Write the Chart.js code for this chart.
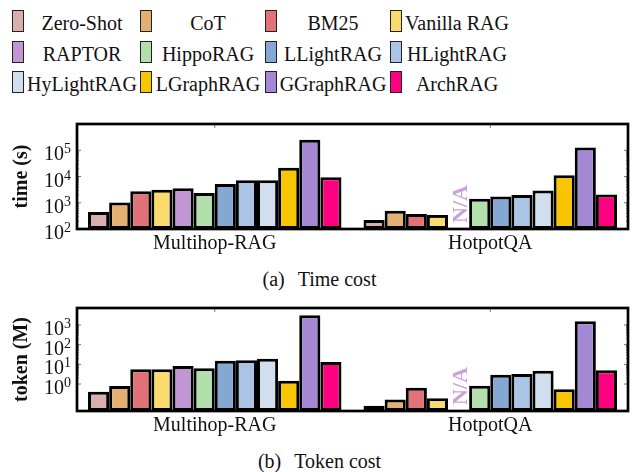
<!DOCTYPE html>
<html>
<head>
<meta charset="utf-8">
<script src="https://cdn.jsdelivr.net/npm/chart.js@4.4.0/dist/chart.umd.min.js"></script>
<style>
  body { margin: 0; background: #fff; font-family: 'Liberation Serif', 'Times New Roman', serif; }
  #wrap { position: relative; width: 639px; height: 472px; overflow: hidden; }
  canvas { position: absolute; left: 0; }
  .caption { position: absolute; left: 0; width: 639px; text-align: center; font-size: 20px; line-height: 24px; color: #111; }
  .caption span { display: inline-block; width: 13px; }
  .leg-box { position: absolute; box-sizing: border-box; width: 12px; height: 22px; border: 1.5px solid #222; }
  .leg-text { position: absolute; width: 130px; margin-left: -65px; text-align: center; font-size: 20px; line-height: 24px; color: #111; white-space: nowrap; }
</style>
</head>
<body>
<div id="wrap">
  <div id="legend"></div>
  <canvas id="timeChart" width="639" height="150" style="top:110px"></canvas>
  <div class="caption" style="top:267px">(a)<span></span>Time cost</div>
  <canvas id="tokenChart" width="639" height="152" style="top:290px"></canvas>
  <div class="caption" style="top:449px">(b)<span></span>Token cost</div>
</div>
<script>
// methods and their colours
const methods = ['Zero-Shot', 'CoT', 'BM25', 'Vanilla RAG', 'RAPTOR', 'HippoRAG',
                 'LLightRAG', 'HLightRAG', 'HyLightRAG', 'LGraphRAG', 'GGraphRAG', 'ArchRAG'];
const colors = ['#d8aeae', '#e2b070', '#e07278', '#f9dc6b', '#c197d3', '#b2dfab',
                '#84a7d3', '#a9c4e4', '#d1deee', '#f8c500', '#a488d6', '#ff0080'];
const benchmarks = ['Multihop-RAG', 'HotpotQA'];

// time (s), RAPTOR has no HotpotQA result
const timeMultihop = [440, 1030, 2720, 3160, 3550, 2360, 5200, 7200, 7200, 21600, 250000, 9400];
const timeHotpot = [220, 495, 370, 345, null, 1420, 1740, 1990, 2900, 11200, 126000, 2040];
// token (M)
const tokenMultihop = [0.41, 0.79, 5.6, 5.6, 8.2, 6.3, 15.2, 15.9, 19.2, 1.47, 3090, 13.1];
const tokenHotpot = [0.079, 0.167, 0.65, 0.19, null, 0.82, 2.96, 3.2, 4.7, 0.54, 1520, 4.95];

const timeTicks = [1e2, 1e3, 1e4, 1e5];
const tokenTicks = [1e0, 1e1, 1e2, 1e3];

const serif = "'Liberation Serif', 'Times New Roman', serif";

// Legend (3 rows x 4 columns)
const legendEl = document.getElementById('legend');
const boxLeft = [12, 140, 265, 390];
const textCenter = [82, 208, 333, 457];
const rowCenter = [21, 52, 82];
methods.forEach(function(name, i) {
    const col = i % 4, row = Math.floor(i / 4);
    const box = document.createElement('div');
    box.className = 'leg-box';
    box.style.left = boxLeft[col] + 'px';
    box.style.top = (rowCenter[row] - 11) + 'px';
    box.style.background = colors[i];
    legendEl.appendChild(box);
    const txt = document.createElement('div');
    txt.className = 'leg-text';
    txt.textContent = name;
    txt.style.left = textCenter[col] + 'px';
    txt.style.top = (rowCenter[row] - 10) + 'px';
    legendEl.appendChild(txt);
});

// frame, inward ticks, 10^k labels and the N/A mark
const framePlugin = {
    id: 'frame',
    afterDatasetsDraw(chart, args, opts) {
        const { ctx, chartArea: a, scales: { x, y } } = chart;
        ctx.save();
        ctx.strokeStyle = '#555';
        ctx.lineWidth = 0.8;
        ctx.beginPath();
        const majors = opts.majors;
        majors.forEach(function(m, k) {
            const py = y.getPixelForValue(m);
            ctx.moveTo(a.left, py); ctx.lineTo(a.left + 4, py);
            ctx.moveTo(a.right, py); ctx.lineTo(a.right - 4, py);
            if (k < majors.length - 1) {
                for (let j = 2; j <= 9; j++) {
                    const my = y.getPixelForValue(m * j);
                    ctx.moveTo(a.left, my); ctx.lineTo(a.left + 2, my);
                    ctx.moveTo(a.right, my); ctx.lineTo(a.right - 2, my);
                }
            }
        });
        x.ticks.forEach(function(t, i) {
            const px = x.getPixelForTick(i);
            ctx.moveTo(px, a.top); ctx.lineTo(px, a.top + 4);
        });
        ctx.stroke();

        // tick labels as 10 with a raised exponent
        ctx.fillStyle = '#111';
        ctx.textAlign = 'right';
        ctx.textBaseline = 'alphabetic';
        majors.forEach(function(m) {
            const py = y.getPixelForValue(m);
            const exp = String(Math.round(Math.log10(m)));
            ctx.font = '14px ' + serif;
            const ew = ctx.measureText(exp).width;
            ctx.fillText(exp, a.left - 6, py + 3);
            ctx.font = '20px ' + serif;
            ctx.fillText('10', a.left - 6 - ew, py + 10);
        });

        // N/A for missing RAPTOR bar
        const el = chart.getDatasetMeta(4).data[1];
        if (el) {
            ctx.fillStyle = '#c7a3d9';
            ctx.font = 'bold 22px ' + serif;
            ctx.textAlign = 'left';
            ctx.textBaseline = 'alphabetic';
            ctx.translate(el.x + 8, a.bottom - 6);
            ctx.rotate(-Math.PI / 2);
            ctx.fillText('N/A', 0, 0);
            ctx.setTransform(1, 0, 0, 1, 0, 0);
        }

        ctx.strokeStyle = '#000';
        ctx.lineWidth = 2.7;
        ctx.strokeRect(a.left, a.top, a.right - a.left, a.bottom - a.top);
        ctx.restore();
    }
};

function makeChart(canvasId, seriesA, seriesB, ticks, yMin, yMax, yTitle, padTop) {
    const ctx = document.getElementById(canvasId).getContext('2d');
    return new Chart(ctx, {
        type: 'bar',
        data: {
            labels: benchmarks,
            datasets: methods.map(function(name, i) {
                return {
                    label: name,
                    data: [seriesA[i], seriesB[i]],
                    backgroundColor: colors[i],
                    borderColor: '#000',
                    borderWidth: 3,
                    borderSkipped: false,
                    categoryPercentage: 0.92,
                    barPercentage: 1.0
                };
            })
        },
        options: {
            responsive: false,
            animation: false,
            layout: { padding: { left: 0, right: 11, top: padTop, bottom: 1 } },
            plugins: {
                legend: { display: false },
                tooltip: { enabled: false },
                frame: { majors: ticks }
            },
            scales: {
                x: {
                    grid: { display: false, drawTicks: false },
                    border: { display: false },
                    ticks: { color: '#111', padding: 3, maxRotation: 0, font: { family: serif, size: 20 } },
                    afterFit: function(scale) { scale.height = 30; }
                },
                y: {
                    type: 'logarithmic',
                    min: yMin,
                    max: yMax,
                    grid: { display: false, drawTicks: false },
                    border: { display: false },
                    afterBuildTicks: function(scale) {
                        scale.ticks = ticks.map(v => ({ value: v }));
                    },
                    afterFit: function(scale) { scale.width = 77; },
                    ticks: { display: false },
                    title: {
                        display: true,
                        text: yTitle,
                        color: '#111',
                        padding: { top: 10, bottom: 0 },
                        font: { family: serif, size: 20, weight: 'bold' }
                    }
                }
            }
        },
        plugins: [framePlugin]
    });
}

makeChart('timeChart', timeMultihop, timeHotpot, timeTicks, 1e2, 1e6, 'time (s)', 14);
makeChart('tokenChart', tokenMultihop, tokenHotpot, tokenTicks, 0.043, 7200, 'token (M)', 18);
</script>
</body>
</html>
